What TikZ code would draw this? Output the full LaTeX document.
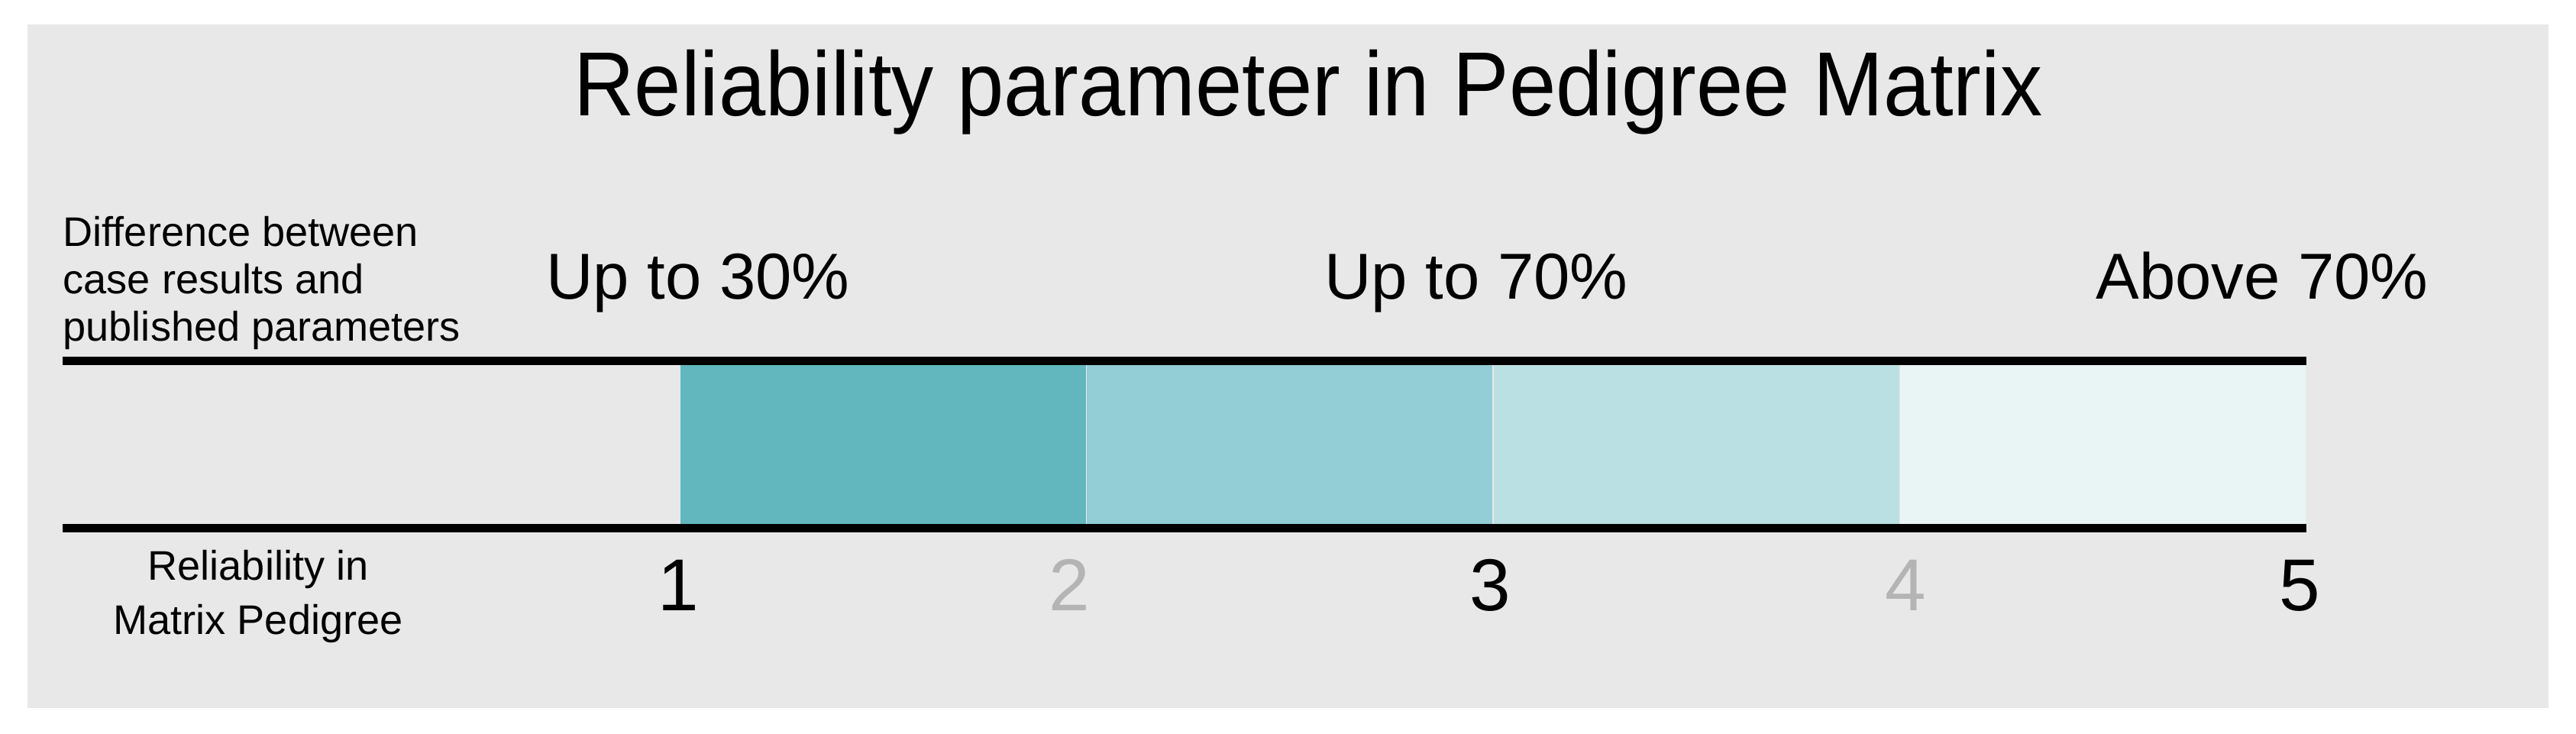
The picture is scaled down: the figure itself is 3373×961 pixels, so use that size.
\documentclass[tikz,border=0pt]{standalone}
\usepackage{fontspec}
\setmainfont{Liberation Sans}
\newfontfamily\headfont[FakeStretch=0.925]{Liberation Sans}
\usetikzlibrary{positioning}

\definecolor{panel}{HTML}{E8E8E8}
\definecolor{tealA}{HTML}{62B7BF}
\definecolor{tealB}{HTML}{93CDD5}
\definecolor{tealC}{HTML}{BBE0E3}
\definecolor{tealD}{HTML}{E9F4F4}
\definecolor{softnum}{HTML}{B4B4B4}

\begin{document}
\begin{tikzpicture}[x=0.1mm,y=-0.1mm,
    seg/.style={inner sep=0pt,minimum width=53.1mm,minimum height=21.9mm},
    rule/.style={line width=1.1mm,line cap=butt},
    num/.style={anchor=base,inner sep=0pt,font=\fontsize{27.4}{30}\selectfont},
    band/.style={anchor=base,inner sep=0pt,font=\fontsize{24.2}{28}\selectfont},
    side/.style={inner sep=0pt,font=\fontsize{15.4}{17.6}\selectfont}]
  \useasboundingbox (0,0) rectangle (3373,961);
  \fill[white] (0,0) rectangle (3373,961);
  \fill[panel] (36,32) rectangle (3337,927);

  \node[anchor=base,inner sep=0pt,font=\headfont\fontsize{33.9}{38}\selectfont] (title) at (1713,152)
    {Reliability parameter in Pedigree Matrix};

  \node[seg,fill=tealA,anchor=north west] (s1) at (890,473) {};
  \node[seg,fill=tealB,right=0pt of s1] (s2) {};
  \node[seg,fill=tealC,right=0pt of s2] (s3) {};
  \node[seg,fill=tealD,right=0pt of s3] (s4) {};

  \coordinate (tl) at (82,473);
  \coordinate (bl) at (82,692);
  \draw[rule] (tl) -- (tl -| s4.north east);
  \draw[rule] (bl) -- (bl -| s4.south east);

  \node[side,anchor=north west,align=left] (diff) at (82,283)
    {Difference between\\case results and\\published parameters};
  \node[side,anchor=north,align=center,font=\fontsize{15.4}{20.2}\selectfont] (rel) at (338,720)
    {Reliability in\\Matrix Pedigree};

  \node[band] (b1) at (914,392) {Up to 30\%};
  \node[band] (b2) at (1933,392) {Up to 70\%};
  \node[band] (b3) at (2962,392) {Above 70\%};

  \node[num] (n1) at (888,799) {1};
  \node[num,text=softnum] (n2) at (1400,799) {2};
  \node[num] (n3) at (1951,799) {3};
  \node[num,text=softnum] (n4) at (2495,799) {4};
  \node[num] (n5) at (3011,799) {5};
\end{tikzpicture}
\end{document}
